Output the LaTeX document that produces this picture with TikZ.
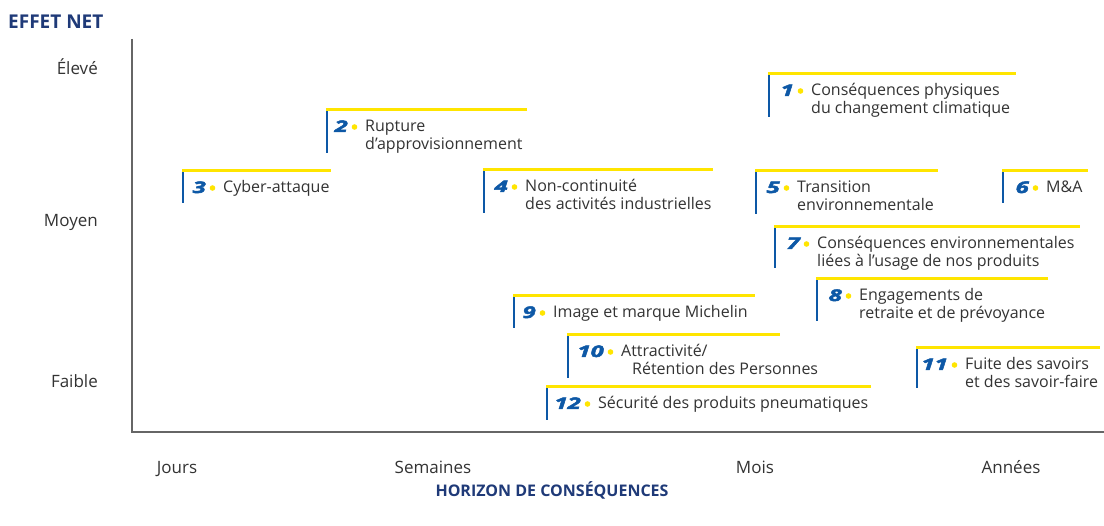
\documentclass[tikz,border=0pt]{standalone}
\usepackage{fontspec}
\setmainfont{Open Sans}
\newfontfamily\numfont{Open Sans}[FakeStretch=1.5, FakeBold=3]
\definecolor{textgray}{HTML}{333333}
\definecolor{axisgray}{HTML}{666666}
\definecolor{navy}{HTML}{1F3A78}
\definecolor{riskblue}{HTML}{0D58A6}
\definecolor{riskyellow}{HTML}{FFE500}
\tikzset{
  axisline/.style={draw=axisgray, line width=2pt},
  barline/.style={draw=riskblue, line width=2.4pt},
  topline/.style={draw=riskyellow, line width=3pt},
  bulletdot/.style={fill=riskyellow},
  itemtext/.style={anchor=base west, inner sep=0pt, text=textgray,
    font=\fontsize{16}{18}\selectfont},
  itemnum/.style={anchor=base east, inner sep=0pt, text=riskblue,
    font=\numfont\bfseries\itshape\fontsize{16}{16}\selectfont},
  levellabel/.style={anchor=base east, inner sep=0pt, text=textgray,
    font=\fontsize{17}{17}\selectfont},
  horizonlabel/.style={anchor=base, inner sep=0pt, text=textgray,
    font=\fontsize{17}{17}\selectfont},
  axistitle/.style={inner sep=0pt, text=navy, font=\bfseries},
}
% lines of a label, aligned on the baseline of the first one
\newcommand{\labellines}[1]{\begin{tabular}[t]{@{}l@{}}#1\end{tabular}}
% one risk: #1 number, #2 bar x, #3 top y, #4 end x of the yellow rule,
% #5 bottom of the blue bar, #6 text x, #7 text
\newcommand{\riskitem}[7]{%
  \coordinate (r#1-top) at (#2,#3);
  \coordinate (r#1-end) at (#4,#3);
  \coordinate (r#1-bot) at (#2,#5);
  \node[itemtext] (r#1-txt) at (#6,{#3+22}) {\labellines{#7}};
  \node[itemnum] (r#1-num) at ({#6-17},{#3+22}) {#1};
  \fill[bulletdot] ({#6-10.5},{#3+17}) circle (2.8);
  \draw[barline] (r#1-bot) -- (r#1-top);
  \draw[topline] ([xshift=-1.2pt]r#1-top) -- (r#1-end);
}
\begin{document}
\begin{tikzpicture}[x=1pt,y=-1pt]
\useasboundingbox[fill=white] (0,0) rectangle (1104,526);

% axes
\coordinate (axtop) at (132,39);
\coordinate (origin) at (132,432);
\coordinate (axright) at (1104,432);
\draw[axisline] (axtop) -- (origin) -- (axright);

% axis titles
\node[axistitle, anchor=base west, font=\bfseries\fontsize{19}{19}\selectfont] (ytitle) at (8,29) {EFFET NET};
\node[axistitle, anchor=base, font=\bfseries\fontsize{16}{16}\selectfont] (xtitle) at (552,497) {HORIZON DE CONSÉQUENCES};

% effect levels
\node[levellabel] (eleve) at (98,75) {Élevé};
\node[levellabel] (moyen) at (98,227) {Moyen};
\node[levellabel] (faible) at (98,388) {Faible};

% horizons
\node[horizonlabel] (jours) at (177,474) {Jours};
\node[horizonlabel] (semaines) at (433,474) {Semaines};
\node[horizonlabel] (mois) at (755,474) {Mois};
\node[horizonlabel] (annees) at (1011,474) {Années};

% risks
\riskitem{1}{769}{74}{1016}{117}{811}{Conséquences physiques\\du changement climatique}
\riskitem{2}{327}{110}{527}{153}{365}{Rupture\\d’approvisionnement}
\riskitem{3}{183}{171}{331}{203}{223}{Cyber-attaque}
\riskitem{4}{484}{170}{713}{213}{525}{Non-continuité\\des activités industrielles}
\riskitem{5}{756}{171}{938}{214}{797}{Transition\\environnementale}
\riskitem{6}{1003}{171}{1088}{203}{1046}{M\&A}
\riskitem{7}{775}{227}{1080}{268}{817}{Conséquences environnementales\\liées à l’usage de nos produits}
\riskitem{8}{817}{279}{1048}{321}{859}{Engagements de\\retraite et de prévoyance}
\riskitem{9}{514}{296}{755}{328}{553}{Image et marque Michelin}
\riskitem{10}{568}{335}{780}{378}{621}{Attractivité/\\\hspace*{11pt}Rétention des Personnes}
\riskitem{11}{917}{348}{1100}{388}{965}{Fuite des savoirs\\et des savoir-faire}
\riskitem{12}{547}{387}{871}{420}{598}{Sécurité des produits pneumatiques}
\end{tikzpicture}
\end{document}
